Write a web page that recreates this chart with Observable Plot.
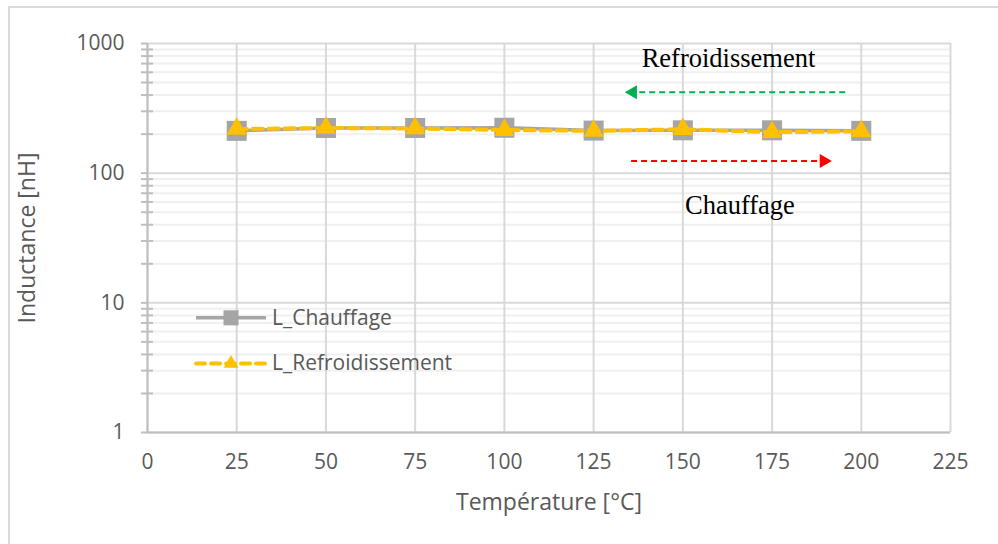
<!DOCTYPE html>
<html><head><meta charset="utf-8">
<script src="https://cdn.jsdelivr.net/npm/d3@7"></script>
<script src="https://cdn.jsdelivr.net/npm/@observablehq/plot@0.6"></script>
<style>
html,body{margin:0;padding:0;background:#fff;overflow:hidden}
#wrap{position:relative;width:998px;height:544px;overflow:hidden}
#border{position:absolute;left:8px;top:6px;width:1010px;height:580px;border:2px solid #d9d9d9;box-sizing:border-box}
#chart{position:absolute;left:0;top:0}
</style>
</head><body><div id="wrap"><div id="border"></div><div id="chart"></div></div>
<script>
// ---- data ----
const temperatures = [25, 50, 75, 100, 125, 150, 175, 200];
const chauffage = [212, 223, 223, 224, 213, 214, 214, 212];
const refroidissement = [219, 223, 221, 215, 212, 218, 207, 210];
const xTicks = [0, 25, 50, 75, 100, 125, 150, 175, 200, 225];
const yTicks = [1, 10, 100, 1000];
const yMinor = [2,3,4,5,6,7,8,9, 20,30,40,50,60,70,80,90, 200,300,400,500,600,700,800,900];
const seriesNames = ["L_Chauffage", "L_Refroidissement"];
const xTitle = "Température [°C]";
const yTitle = "Inductance [nH]";
// annotation texts and arrows (data coordinates)
const annotations = [
  {text: "Refroidissement", x: 162.8, y: 770},
  {text: "Chauffage", x: 166, y: 56}
];
const arrows = [
  {x1: 195.5, x2: 136, y: 420, color: "#00b050", dir: -1},
  {x1: 135.5, x2: 189.5, y: 124, color: "#ff0000", dir: 1}
];
const legendRows = [
  {name: seriesNames[0], y: 7.66, x1: 13.6, x2: 33.2, xm: 23.4, xt: 34.9},
  {name: seriesNames[1], y: 3.4, x1: 13.6, x2: 33.2, xm: 23.4, xt: 34.9}
];

const dataC = temperatures.map((t, i) => ({t, v: chauffage[i]}));
const dataR = temperatures.map((t, i) => ({t, v: refroidissement[i]}));

const gray = "#a5a5a5", yellow = "#ffc000", txt = "#595959";
const font = "'Open Sans', sans-serif";

const chart = Plot.plot({
  width: 998, height: 544,
  marginLeft: 147, marginRight: 48, marginTop: 43, marginBottom: 112,
  style: {fontFamily: font, background: "transparent", overflow: "visible"},
  x: {domain: [0, 225]},
  y: {type: "log", domain: [1, 1000]},
  marks: [
    Plot.gridY(yMinor, {stroke: "#f0f0f0", strokeOpacity: 1, strokeWidth: 2}),
    Plot.gridY(yTicks, {stroke: "#d9d9d9", strokeOpacity: 1, strokeWidth: 2}),
    Plot.gridX(xTicks, {stroke: "#d9d9d9", strokeOpacity: 1, strokeWidth: 2}),
    Plot.ruleX([0], {stroke: "#bfbfbf", strokeWidth: 2}),
    Plot.ruleY([1], {stroke: "#bfbfbf", strokeWidth: 2}),
    Plot.axisY(yMinor, {tickSize: 6, text: null, stroke: "#bfbfbf", strokeWidth: 2}),
    Plot.axisY(yMinor, {anchor: "right", tickSize: 5, text: null, stroke: "#bfbfbf", strokeWidth: 2, dx: -803}),
    Plot.axisY(yTicks, {tickSize: 6, tickPadding: 17, tickFormat: d => String(d), fontSize: 21, fill: txt, stroke: "#bfbfbf", strokeWidth: 2, label: null}),
    Plot.axisX(xTicks, {tickSize: 0, tickPadding: 22, tickFormat: d => String(d), fontSize: 21, fill: txt, label: null}),
    Plot.text([xTitle], {frameAnchor: "bottom", lineAnchor: "middle", textAnchor: "middle", dy: 70, fontSize: 23, fill: txt}),
    Plot.text([yTitle], {frameAnchor: "left", textAnchor: "middle", lineAnchor: "middle", dx: -120, rotate: -90, fontSize: 23, fill: txt, letterSpacing: "1px"}),
    // series
    Plot.line(dataC, {x: "t", y: "v", stroke: gray, strokeWidth: 3.5}),
    Plot.dot(dataC, {x: "t", y: "v", symbol: "square", r: 11.3, fill: gray}),
    Plot.line(dataR, {x: "t", y: "v", stroke: yellow, strokeWidth: 4, strokeDasharray: "10,6", strokeLinecap: "round"}),
    Plot.dot(dataR, {x: "t", y: "v", symbol: "triangle", r: 7.5, fill: yellow}),
    // annotations
    Plot.text(annotations, {x: "x", y: "y", text: "text", fontFamily: "'Liberation Serif', 'Times New Roman', serif", fontSize: 26.5, fill: "#000"}),
    Plot.link(arrows, {x1: "x1", x2: "x2", y1: "y", y2: "y", stroke: "color", strokeWidth: 2, strokeDasharray: "6,4"}),
    Plot.dot(arrows, {x: "x2", y: "y", symbol: "triangle", r: 5.2, fill: "color", rotate: d => d.dir * 90}),
    // legend
    Plot.link(legendRows.slice(0,1), {x1: "x1", x2: "x2", y1: "y", y2: "y", stroke: gray, strokeWidth: 3.5}),
    Plot.dot(legendRows.slice(0,1), {x: "xm", y: "y", symbol: "square", r: 8.5, fill: gray}),
    Plot.link(legendRows.slice(1), {x1: "x1", x2: "x2", y1: "y", y2: "y", stroke: yellow, strokeWidth: 4, strokeDasharray: "9,6", strokeLinecap: "round"}),
    Plot.dot(legendRows.slice(1), {x: "xm", y: "y", symbol: "triangle", r: 5.5, fill: yellow}),
    Plot.text(legendRows, {x: "xt", y: "y", text: "name", textAnchor: "start", fontSize: 21, fill: txt})
  ]
});
document.getElementById("chart").appendChild(chart);
</script>
</body></html>
